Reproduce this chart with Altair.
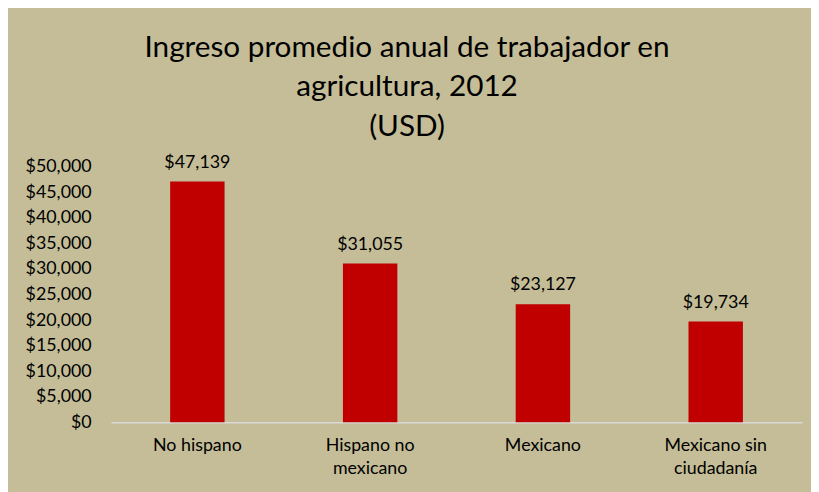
import altair as alt
import pandas as pd

categories = ["No hispano", "Hispano no\nmexicano", "Mexicano", "Mexicano sin\nciudadanía"]
values = [47139, 31055, 23127, 19734]
y_ticks = [0, 5000, 10000, 15000, 20000, 25000, 30000, 35000, 40000, 45000, 50000]
title_lines = ["Ingreso promedio anual de trabajador en", "agricultura, 2012", "(USD)"]

df = pd.DataFrame({"cat": categories, "val": values})
FONT = "Lato"

x = alt.X("cat:N", sort=categories,
          scale=alt.Scale(paddingInner=0.685, paddingOuter=0.3425),
          axis=alt.Axis(title=None, labelAngle=0, labelFontSize=18, labelFont=FONT,
                        labelColor="#000000", labelPadding=14, labelLineHeight=24,
                        labelBaseline="top", ticks=False, domainColor="#D9D9D9",
                        domainWidth=1.5, labelExpr="split(datum.label, '\\n')"))
y = alt.Y("val:Q", scale=alt.Scale(domain=[0, 50000], nice=False),
          axis=alt.Axis(title=None, values=y_ticks, format="$,.0f", grid=False,
                        domain=False, ticks=False, labelFontSize=18, labelFont=FONT,
                        labelColor="#000000", labelPadding=20, labelOverlap=False,
                        labelBound=False, labelFlush=False))

base = alt.Chart(df).encode(x=x, y=y)
bars = base.mark_bar(color="#C00000")
labels = base.mark_text(baseline="bottom", dy=-10, fontSize=18, font=FONT,
                        color="#000000").encode(text=alt.Text("val:Q", format="$,.0f"))

chart = alt.layer(bars, labels).properties(
    width=698, height=258,
    autosize=alt.AutoSizeParams(type="none"),
    padding={"left": 104, "top": 158, "right": 9, "bottom": 68},
    background="#C4BD97",
    title=alt.TitleParams(title_lines, fontSize=30, font=FONT, fontWeight="normal",
                          color="#000000", lineHeight=40, anchor="middle", dx=-50,
                          offset=12),
).configure_view(stroke=None).configure_axis(labelOverlap=False)

chart.save("out.html", embed_options={"renderer": "svg", "actions": False})
